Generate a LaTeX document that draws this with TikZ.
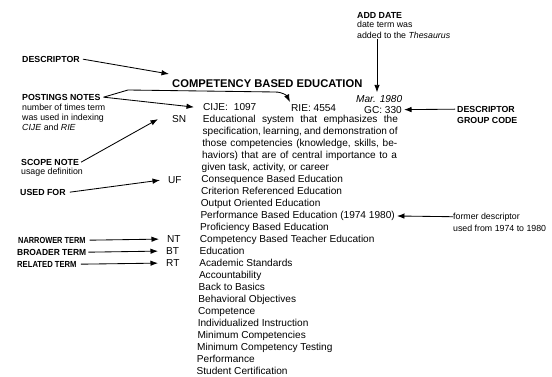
\documentclass[tikz,border=0pt]{standalone}
\usepackage{fontspec}
\setmainfont{Liberation Sans}
\usetikzlibrary{arrows.meta}
\begin{document}
\begin{tikzpicture}[x=1pt,y=-1pt,
  txt/.style={anchor=base west, inner sep=0pt, font=\fontsize{10.1}{12}\selectfont},
  lbl/.style={anchor=base west, inner sep=0pt, font=\fontsize{8.8}{10}\selectfont\bfseries},
  sml/.style={anchor=base west, inner sep=0pt, font=\fontsize{8.8}{10}\selectfont},
  ttl/.style={anchor=base west, inner sep=0pt, font=\fontsize{11.2}{13}\selectfont\bfseries},
  arr/.style={-{Latex[length=7.5pt,width=5.5pt]}, line width=0.85pt}]
\useasboundingbox (0,0) rectangle (552,377);

% left labels
\node[lbl] (desc) at (22,62.2) {DESCRIPTOR};
\node[lbl] (pn) at (22,100.2) {POSTINGS NOTES};
\node[sml] (pn1) at (22,111) {number of times term};
\node[sml] (pn2) at (22,121) {was used in indexing};
\node[sml] (pn3) at (22,131) {\textit{CIJE} and \textit{RIE}};
\node[lbl] (scl) at (21,165.2) {SCOPE NOTE};
\node[sml] (scl2) at (21,175) {usage definition};
\node[lbl] (ufl) at (20,195.2) {USED FOR};
\node[lbl] (ntl) at (18,243.2) {\scalebox{0.84}[1]{NARROWER TERM}};
\node[lbl] (btl) at (17,255.2) {\scalebox{0.96}[1]{BROADER TERM}};
\node[lbl] (rtl) at (17,267.2) {\scalebox{0.87}[1]{RELATED TERM}};

% top right labels
\node[lbl] (add1) at (357,18.2) {ADD DATE};
\node[sml] (add2) at (357,28) {date term was};
\node[sml] (add3) at (357,39) {added to the \textit{Thesaurus}};
\node[lbl] (dgc1) at (457,112.2) {DESCRIPTOR};
\node[lbl] (dgc2) at (457,123.2) {GROUP CODE};
\node[sml] (fd1) at (453,219) {former descriptor};
\node[sml] (fd2) at (453,231) {used from 1974 to 1980};

% entry
\node[ttl] (title) at (172,88) {COMPETENCY BASED EDUCATION};
\node[txt] (mar) at (356,102.6) {\textit{Mar. 1980}};
\node[txt] (cije) at (203,110.6) {CIJE:\hspace{6pt}1097};
\node[txt] (rie) at (291,111.6) {RIE: 4554};
\node[txt] (gc) at (364,113.1) {GC: 330};

\node[txt] (sn) at (172,122.6) {SN};
\node[txt] (uf) at (168,183.6) {UF};
\node[txt] (nt) at (167,242.6) {NT};
\node[txt] (bt) at (166,254.6) {BT};
\node[txt] (rt) at (166,266.6) {RT};

\node[txt] (l1) at (202.7,122.6) {\makebox[195pt][s]{Educational system that emphasizes the}};
\node[txt] (l2) at (202.4,134.6) {\makebox[195pt][s]{specification, learning, and demonstration of}};
\node[txt] (l3) at (202.1,146.6) {\makebox[195pt][s]{those competencies (knowledge, skills, be-}};
\node[txt] (l4) at (201.8,158.6) {\makebox[195pt][s]{haviors) that are of central importance to a}};
\node[txt] (l5) at (201.5,170.6) {given task, activity, or career};
\node[txt] (l6) at (201.2,182.6) {Consequence Based Education};
\node[txt] (l7) at (200.9,194.6) {Criterion Referenced Education};
\node[txt] (l8) at (200.6,206.6) {Output Oriented Education};
\node[txt] (l9) at (200.3,218.6) {Performance Based Education (1974 1980)};
\node[txt] (l10) at (200,230.6) {Proficiency Based Education};
\node[txt] (l11) at (199.7,242.6) {Competency Based Teacher Education};
\node[txt] (l12) at (199.4,254.6) {Education};
\node[txt] (l13) at (199.1,266.6) {Academic Standards};
\node[txt] (l14) at (198.8,278.6) {Accountability};
\node[txt] (l15) at (198.5,290.6) {Back to Basics};
\node[txt] (l16) at (198.2,302.6) {Behavioral Objectives};
\node[txt] (l17) at (197.9,314.6) {Competence};
\node[txt] (l18) at (197.6,326.6) {Individualized Instruction};
\node[txt] (l19) at (197.3,338.6) {Minimum Competencies};
\node[txt] (l20) at (197,350.6) {Minimum Competency Testing};
\node[txt] (l21) at (196.7,362.6) {Performance};
\node[txt] (l22) at (196.4,374.6) {Student Certification};

% connectors
\coordinate (desctip) at (169,74);
\draw[arr] ([xshift=3pt]desc.east) -- (desctip);
\draw[arr] ([xshift=3pt]pn.east) -- ([xshift=-9pt]cije.west);
\coordinate (pk1) at (128,90);
\coordinate (pk2) at (275,92);
\coordinate (rietip) at (290,102);
\draw[arr] ([xshift=3pt]pn.east) -- (pk1) -- (pk2) .. controls (283,92) and (287,96) .. (rietip);
\draw[arr] ([xshift=20pt]add3.south west) -- ([xshift=21pt,yshift=3pt]mar.north west);
\draw[arr] ([xshift=-2pt]dgc1.west) -- ([xshift=2pt]gc.east);
\draw[arr] ([xshift=2pt]scl.east) -- ([xshift=-14pt]sn.west);
\draw[arr] ([xshift=4pt]ufl.east) -- ([xshift=-8pt]uf.west);
\draw[arr] ([xshift=4pt]ntl.east) -- ([xshift=-8pt]nt.west);
\draw[arr] ([xshift=2pt]btl.east) -- ([xshift=-8pt]bt.west);
\draw[arr] ([xshift=4pt]rtl.east) -- ([xshift=-8pt]rt.west);
\draw[arr] (fd1.west) -- ([xshift=2pt]l9.east);
\end{tikzpicture}
\end{document}
